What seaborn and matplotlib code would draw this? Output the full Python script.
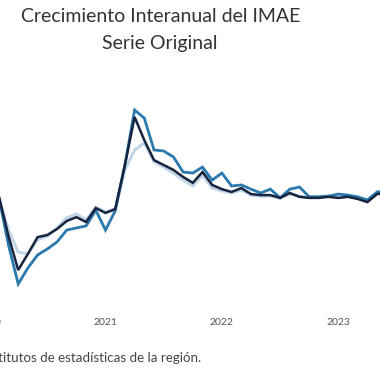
import numpy as np
import pandas as pd
import matplotlib
matplotlib.use("Agg")
import matplotlib.pyplot as plt
import seaborn as sns

# ---- data (interannual growth, %) ----
meses = pd.date_range("2019-12-01", "2023-06-01", freq="MS")
anios = ["2020", "2021", "2022", "2023"]
serie_claro = [3.7, 3.4, 2.9, -6.6, -12.9, -13.4, -9.4, -8.3, -6.0, -3.1, -2.0, -3.7, 0.0,
               -1.4, -0.6, 10.6, 16.3, 18.3, 12.9, 11.4, 9.7, 7.7, 6.0, 9.1, 5.4,
               4.6, 4.0, 4.9, 3.4, 3.1, 3.1, 2.6, 3.7, 3.1, 2.9, 3.1, 3.1,
               2.9, 3.1, 2.6, 2.0, 4.0, 4.3]
serie_media = [4.3, 3.7, 2.9, -10.9, -22.0, -17.4, -13.7, -12.0, -10.0, -6.6, -6.0, -5.4, -0.9,
               -6.6, -1.1, 12.0, 27.7, 25.4, 16.3, 16.0, 14.3, 10.0, 9.7, 11.4, 7.7,
               9.7, 6.0, 6.3, 5.1, 4.0, 5.1, 2.6, 5.1, 5.7, 2.9, 2.9, 3.1,
               3.7, 3.4, 2.9, 2.0, 4.3, 4.6]
serie_oscura = [4.0, 3.7, 3.1, -8.3, -18.0, -13.4, -8.6, -8.0, -6.3, -4.0, -2.9, -4.3, -0.3,
                -1.7, -0.6, 12.0, 25.7, 19.1, 13.4, 12.0, 10.6, 8.6, 6.9, 10.0, 6.3,
                5.1, 4.3, 5.4, 3.7, 3.4, 3.4, 2.6, 4.0, 2.9, 2.6, 2.6, 2.9,
                2.6, 2.9, 2.3, 1.4, 3.7, 4.0]
nombres = ["Serie A", "Serie B", "Serie C"]
colores = ["#b8cfe3", "#2a78ad", "#16243f"]
anchos = [2.2, 2.0, 1.8]

# month index relative to Jan 2020
idx = (meses.year - 2020) * 12 + (meses.month - 1)
df = pd.concat([
    pd.DataFrame({"mes": idx, "valor": vals, "serie": n})
    for n, vals in zip(nombres, [serie_claro, serie_media, serie_oscura])
], ignore_index=True)

sns.set_theme(style="white")
plt.rcParams["font.family"] = ["Lato", "DejaVu Sans"]

W = 380
fig = plt.figure(figsize=(3.8, 3.8), dpi=100)
fig.patch.set_facecolor("white")

# axes extend beyond the canvas (cropped view)
px_left, px_right = -40, 420
py_top, py_bot = 60, 312
ax = fig.add_axes([px_left / W, 1 - py_bot / W, (px_right - px_left) / W, (py_bot - py_top) / W])

sns.lineplot(data=df, x="mes", y="valor", hue="serie", hue_order=nombres,
             palette=dict(zip(nombres, colores)), legend=False, ax=ax)
for line, lw, a in zip(ax.get_lines(), anchos, [0.85, 1.0, 1.0]):
    line.set_linewidth(lw)
    line.set_alpha(a)
    line.set_solid_joinstyle("miter")

# mapping px x = 105.5 + 9.7*(m-12)
def m_at(px):
    return 12 + (px - 105.5) / 9.7
def v_at(py):
    return (207 - py) / 3.5
ax.set_xlim(m_at(px_left), m_at(px_right))
ax.set_ylim(v_at(py_bot), v_at(py_top))
ax.set_xticks([0, 12, 24, 36])
ax.set_xticklabels(anios, fontsize=7.5, color="#555555")
ax.tick_params(axis="x", length=0, pad=4.5)
ax.set_yticks([])
ax.set_xlabel("")
ax.set_ylabel("")
for s in ax.spines.values():
    s.set_visible(False)
ax.set_facecolor("none")

fig.text(161 / W, 1 - 17 / W, "Crecimiento Interanual del IMAE", ha="center", va="center",
         fontsize=14, color="#333333")
fig.text(160 / W, 1 - 43 / W, "Serie Original", ha="center", va="center",
         fontsize=14, color="#333333")
fig.text(201 / W, 1 - 358 / W, "Fuente: Institutos de estadísticas de la región.",
         ha="right", va="center", fontsize=9.6, color="#444444")

fig.savefig("out.png", dpi=100, facecolor="white")
